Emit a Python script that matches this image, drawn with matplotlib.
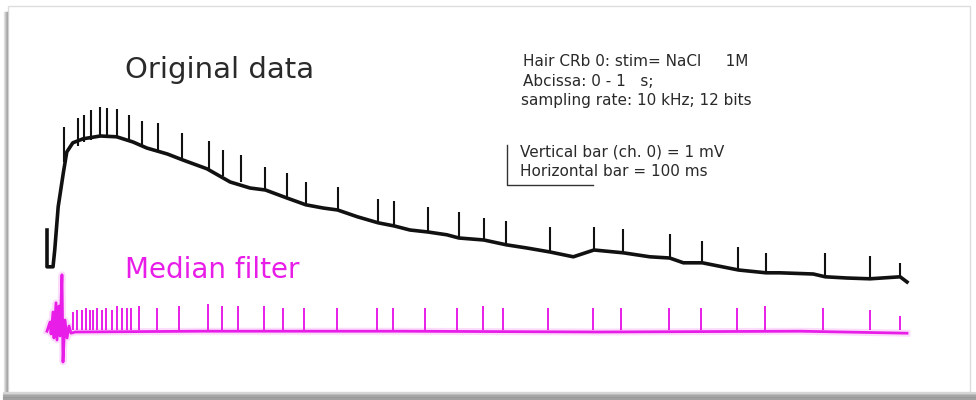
"""
Receptor recording: original trace and median-filtered trace
"""
import matplotlib
matplotlib.use('Agg')
import matplotlib.pyplot as plt
from matplotlib.patches import Rectangle
from matplotlib.lines import Line2D

W, H = 976, 400

# --- data (time in ms, potential in mV) ---
# original data: slow receptor potential (baseline)
raw_t = [0, 0, 7, 9, 13, 19, 23, 30, 42, 62, 81, 100, 116, 140, 158, 186, 213,
         236, 254, 279, 301, 321, 338, 361, 385, 404, 422, 443, 465, 479, 508,
         534, 558, 585, 612, 636, 670, 701, 724, 740, 762, 804, 836, 852, 891,
         905, 930, 957, 992, 1000]
raw_v = [1.25, 0.33, 0.33, 0.75, 1.83, 2.68, 3.2, 3.43, 3.53, 3.6, 3.58, 3.45,
         3.3, 3.15, 3.0, 2.78, 2.45, 2.3, 2.25, 2.05, 1.88, 1.8, 1.75, 1.58,
         1.43, 1.35, 1.25, 1.2, 1.13, 1.05, 1.0, 0.88, 0.8, 0.7, 0.58, 0.75,
         0.68, 0.58, 0.55, 0.43, 0.43, 0.25, 0.18, 0.18, 0.15, 0.08, 0.05,
         0.03, 0.08, -0.05]

# spikes in the original data: time, base and peak
spike_t = [20, 36, 43, 51, 62, 70, 81, 95, 110, 129, 157, 188, 205, 226, 253,
           279, 301, 338, 385, 403, 443, 479, 508, 534, 585, 636, 670, 724,
           762, 803, 836, 905, 957, 992]
spike_base = [2.95, 3.35, 3.45, 3.5, 3.58, 3.6, 3.58, 3.48, 3.35, 3.2, 3.0,
              2.75, 2.6, 2.45, 2.25, 2.05, 1.88, 1.75, 1.43, 1.35, 1.2, 1.05,
              1.0, 0.88, 0.7, 0.75, 0.68, 0.55, 0.43, 0.25, 0.18, 0.08, 0.03,
              0.08]
spike_peak = [3.83, 4.05, 4.13, 4.25, 4.33, 4.3, 4.28, 4.13, 3.98, 3.93, 3.68,
              3.48, 3.25, 3.13, 2.83, 2.68, 2.45, 2.33, 2.03, 1.98, 1.83, 1.7,
              1.55, 1.48, 1.33, 1.33, 1.28, 1.15, 0.98, 0.83, 0.68, 0.68, 0.6,
              0.43]

# median filter output (baseline removed)
med_t = [0, 3.5, 4.7, 7, 8.1, 10.5, 11.6, 14, 15.1, 17.4, 18.6, 20.9, 23.3,
         25.6, 27.9, 32.6, 178, 410, 643, 876, 1000]
med_v = [-0.03, 0.2, -0.1, 0.45, -0.2, 0.68, -0.25, 0.6, -0.15, 1.38, -0.8,
         0.25, -0.2, 0.1, -0.08, -0.05, -0.03, -0.03, -0.05, -0.03, -0.08]

med_spike_t = [30, 35, 41, 45, 50, 53, 58, 64, 69, 76, 81, 87, 93, 98, 107,
               128, 154, 187, 203, 222, 252, 275, 299, 337, 384, 402, 440, 477,
               507, 530, 582, 635, 667, 723, 760, 802, 835, 902, 957, 992]
med_spike_peak = [0.45, 0.5, 0.5, 0.55, 0.5, 0.5, 0.55, 0.5, 0.55, 0.5, 0.6,
                  0.55, 0.55, 0.55, 0.6, 0.55, 0.6, 0.65, 0.6, 0.6, 0.6, 0.55,
                  0.55, 0.55, 0.55, 0.55, 0.55, 0.55, 0.6, 0.55, 0.55, 0.55,
                  0.55, 0.55, 0.55, 0.55, 0.6, 0.55, 0.5, 0.35]

MED_OFFSET = -1.25      # median trace drawn below the original
MS_PER_PX = 1000 / 860
MV_PER_PX = 1 / 40

BLACK = '#111111'
MAGENTA = '#e81ee8'

fig = plt.figure(figsize=(W / 100, H / 100), dpi=100, facecolor='white')
ax = fig.add_axes([0, 0, 1, 1])
ax.set_xlim(-47 * MS_PER_PX, (W - 47) * MS_PER_PX)
ax.set_ylim(-(H - 280) * MV_PER_PX, 280 * MV_PER_PX)
ax.axis('off')

# original trace
ax.plot(raw_t, raw_v, color=BLACK, lw=2.6, solid_joinstyle='round')
ax.vlines(spike_t, spike_base, spike_peak, color=BLACK, lw=1.5)

# median filtered trace
mv = [v + MED_OFFSET for v in med_v]
ax.plot(med_t, mv, color=MAGENTA, lw=5, alpha=0.15)
ax.plot(med_t, mv, color=MAGENTA, lw=2.0)
ax.vlines(med_spike_t, MED_OFFSET, [p + MED_OFFSET for p in med_spike_peak],
          color=MAGENTA, lw=1.4)

# scale bars: 1 mV vertical, 100 ms horizontal
ax.plot([535, 535, 635], [3.375, 2.375, 2.375], color='#333333', lw=1.0)


def px(x, y):
    return x / W, 1 - y / H


fig.text(*px(125, 70), 'Original data', fontsize=21, color='#2a2a2a',
         va='center', ha='left')
fig.text(*px(125, 270), 'Median filter', fontsize=20, color=MAGENTA,
         va='center', ha='left')

info = [
    (523, 61, 'Hair CRb 0: stim= NaCl     1M'),
    (523, 81, 'Abcissa: 0 - 1   s;'),
    (521, 100, 'sampling rate: 10 kHz; 12 bits'),
    (520, 152, 'Vertical bar (ch. 0) = 1 mV'),
    (520, 171, 'Horizontal bar = 100 ms'),
]
for x, y, s in info:
    fig.text(*px(x, y), s, fontsize=11, color='#2a2a2a', va='center',
             ha='left')

# frame with drop shadow
fig.add_artist(Rectangle(px(8, 392), 962 / W, 386 / H, transform=fig.transFigure,
                         fill=False, edgecolor='#dddddd', lw=1.0))
for i, c in enumerate(['#e6e6e6', '#cfcfcf', '#b8b8b8', '#a8a8a8']):
    fig.add_artist(Line2D([(4 + i) / W] * 2, [1 - 12 / H, 1 - 396 / H],
                          transform=fig.transFigure, color=c, lw=1.0))
for i, c in enumerate(['#d6d6d6', '#bdbdbd', '#a6a6a6', '#999999', '#a0a0a0']):
    fig.add_artist(Line2D([4 / W, 1], [1 - (393 + 1.5 * i) / H] * 2,
                          transform=fig.transFigure, color=c, lw=1.5))

fig.savefig('out.png', dpi=100, facecolor='white')
plt.close(fig)
